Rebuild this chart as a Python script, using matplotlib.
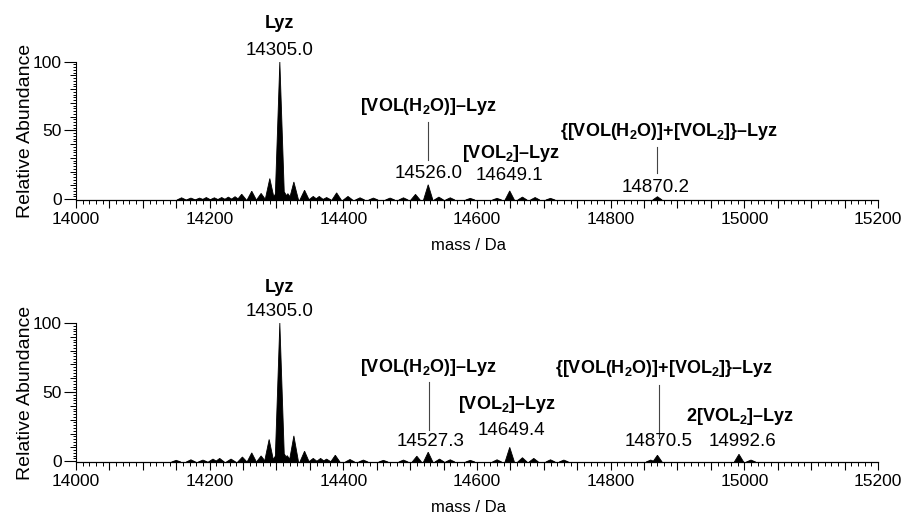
import matplotlib
matplotlib.use("Agg")
import matplotlib.pyplot as plt
from matplotlib.ticker import MultipleLocator, FuncFormatter

plt.rcParams['font.family'] = ['Liberation Sans', 'DejaVu Sans']
plt.rcParams['mathtext.fontset'] = 'custom'
plt.rcParams['mathtext.rm'] = 'Liberation Sans'
plt.rcParams['mathtext.bf'] = 'Liberation Sans:bold'

# peak lists (mass in Da, relative abundance)
top_mass = [14158, 14172, 14185, 14195, 14207, 14218, 14228, 14238, 14248, 14263,
            14277, 14290, 14299, 14305, 14312, 14317, 14326, 14342, 14355, 14364,
            14375, 14390, 14407, 14425, 14445, 14470, 14490, 14508, 14527, 14543,
            14560, 14590, 14630, 14649, 14668, 14687, 14710, 14870]
top_abund = [1.0, 0.8, 0.8, 1.2, 1.0, 1.2, 1.5, 1.8, 3.6, 5.8,
             4.2, 15.0, 4.0, 100.0, 5.0, 4.0, 12.5, 6.5, 2.0, 2.0,
             1.2, 4.6, 2.0, 1.0, 0.8, 0.8, 1.0, 3.5, 10.5, 1.5,
             1.0, 0.6, 0.6, 6.0, 1.5, 1.2, 0.6, 1.8]

bot_mass = [14150, 14172, 14190, 14205, 14215, 14232, 14249, 14263, 14277, 14289,
            14299, 14305, 14312, 14316, 14326, 14342, 14355, 14366, 14375, 14388,
            14410, 14430, 14460, 14490, 14510, 14527, 14544, 14560, 14590, 14630,
            14649, 14668, 14685, 14710, 14730, 14860, 14870, 14992, 15010]
bot_abund = [0.6, 1.0, 0.8, 1.5, 2.0, 1.5, 3.0, 6.0, 3.8, 15.7,
             4.0, 100.0, 5.0, 4.0, 18.3, 7.2, 2.0, 2.0, 1.5, 4.3,
             1.2, 0.8, 0.6, 0.8, 3.6, 6.5, 1.5, 1.0, 0.6, 1.0,
             10.0, 2.5, 2.0, 1.0, 0.8, 0.8, 4.3, 5.0, 0.8]

# annotations: (text, x, y, bold)
top_labels = [
    ("Lyz", 14305, 128, True),
    ("14305.0", 14305, 108.5, False),
    (r"[VOL(H$_\mathbf{2}$O)]–Lyz", 14527, 67.5, True),
    ("14526.0", 14527, 18.5, False),
    (r"[VOL$_\mathbf{2}$]–Lyz", 14651, 33.5, True),
    ("14649.1", 14648, 17.5, False),
    (r"{[VOL(H$_\mathbf{2}$O)]+[VOL$_\mathbf{2}$]}–Lyz", 14888, 49.5, True),
    ("14870.2", 14868, 8.5, False),
]
top_lines = [(14526, 28.5, 56), (14870, 19, 38)]

bot_labels = [
    ("Lyz", 14305, 126, True),
    ("14305.0", 14305, 108, False),
    (r"[VOL(H$_\mathbf{2}$O)]–Lyz", 14527, 68, True),
    ("14527.3", 14530, 14, False),
    (r"[VOL$_\mathbf{2}$]–Lyz", 14645, 41, True),
    ("14649.4", 14651, 22, False),
    (r"{[VOL(H$_\mathbf{2}$O)]+[VOL$_\mathbf{2}$]}–Lyz", 14880, 67, True),
    ("14870.5", 14872, 14.5, False),
    (r"2[VOL$_\mathbf{2}$]–Lyz", 14994, 32.5, True),
    ("14992.6", 14997, 14, False),
]
bot_lines = [(14528, 22.5, 57), (14872, 17, 55)]

HALF_W = 7

fig = plt.figure(figsize=(9.09, 5.2), dpi=100)
ax_top = fig.add_axes([76/909, 1-200/520, 802/909, 138.3/520])
ax_bot = fig.add_axes([76/909, 1-462/520, 802/909, 139/520])


def draw_panel(ax, mass, abund, labels, lines):
    for m, h in zip(mass, abund):
        ax.fill([m - HALF_W, m, m + HALF_W], [-0.6, h, -0.6], color='black', lw=0.6)
    for txt, x, y, bold in labels:
        ax.text(x, y, txt, ha='center', va='center', clip_on=False,
                fontsize=13 if bold else 13.5,
                fontweight='bold' if bold else 'normal')
    for x, y0, y1 in lines:
        ax.plot([x, x], [y0, y1], color='#444444', lw=0.8, clip_on=False)

    ax.set_xlim(14000, 15200)
    ax.set_ylim(-0.6, 100)
    for s in ['top', 'right']:
        ax.spines[s].set_visible(False)
    ax.spines['left'].set_bounds(0, 100)
    ax.spines['left'].set_linewidth(0.8)
    ax.spines['bottom'].set_linewidth(0.9)

    ax.xaxis.set_major_locator(MultipleLocator(50))
    ax.xaxis.set_minor_locator(MultipleLocator(10))
    ax.xaxis.set_major_formatter(FuncFormatter(
        lambda v, p: '%d' % v if round(v) % 200 == 0 else ''))
    ax.set_yticks([0, 50, 100])
    ax.yaxis.set_minor_locator(MultipleLocator(2))
    ax.tick_params(axis='x', which='major', length=6, width=0.8,
                   labelsize=12.5, pad=3)
    ax.tick_params(axis='x', which='minor', length=3, width=0.7)
    ax.tick_params(axis='y', which='major', length=8.5, width=0.8,
                   labelsize=12.5, pad=1.5)
    ax.tick_params(axis='y', which='minor', length=2.5, width=0.7)

    # tens ticks on the y axis
    sec = ax.secondary_yaxis('left')
    sec.set_yticks(range(0, 101, 10))
    sec.tick_params(length=4, width=0.7, labelleft=False)
    sec.spines['left'].set_visible(False)

    ax.set_ylabel('Relative Abundance', fontsize=14)
    ax.yaxis.set_label_coords(-0.052, 0.5)
    ax.set_xlabel('mass / Da', fontsize=12)
    ax.xaxis.set_label_coords(0.49, -0.275)


draw_panel(ax_top, top_mass, top_abund, top_labels, top_lines)
draw_panel(ax_bot, bot_mass, bot_abund, bot_labels, bot_lines)

fig.savefig('out.png', dpi=100)
